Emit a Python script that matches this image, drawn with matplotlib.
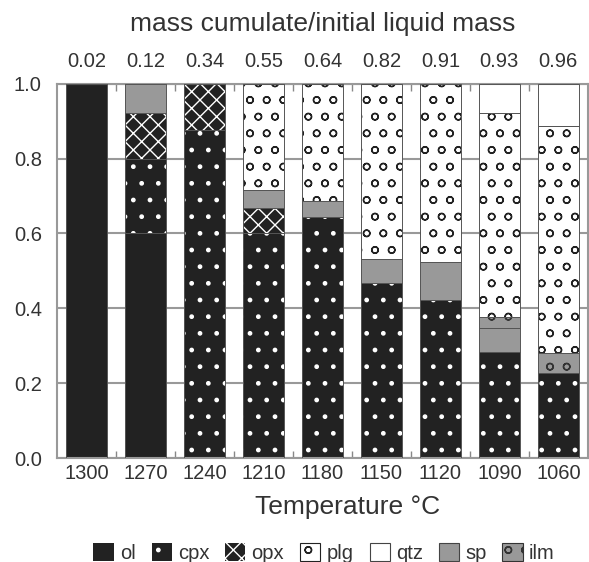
import numpy as np
import matplotlib
matplotlib.use('Agg')
from matplotlib import pyplot as plt
from matplotlib.patches import Patch

matplotlib.rcParams['font.family'] = ['Liberation Sans', 'DejaVu Sans']
matplotlib.rcParams['hatch.linewidth'] = 1.0

temps = ['1300', '1270', '1240', '1210', '1180', '1150', '1120', '1090', '1060']
mass_ratio = ['0.02', '0.12', '0.34', '0.55', '0.64', '0.82', '0.91', '0.93', '0.96']

# mineral fractions, stacked bottom -> top
ol = [1.00, 0.60, 0.0, 0.0, 0.0, 0.0, 0.0, 0.0, 0.0]
cpx = [0.0, 0.20, 0.877, 0.60, 0.644, 0.467, 0.422, 0.282, 0.228]
opx = [0.0, 0.123, 0.123, 0.067, 0.0, 0.0, 0.0, 0.0, 0.0]
sp = [0.0, 0.077, 0.0, 0.05, 0.042, 0.064, 0.103, 0.065, 0.0]
ilm = [0.0, 0.0, 0.0, 0.0, 0.0, 0.0, 0.0, 0.029, 0.052]
plg = [0.0, 0.0, 0.0, 0.283, 0.314, 0.469, 0.475, 0.546, 0.606]
qtz = [0.0, 0.0, 0.0, 0.0, 0.0, 0.0, 0.0, 0.078, 0.114]

minerals = ['ol', 'cpx', 'opx', 'plg', 'qtz', 'sp', 'ilm']
stack_order = ['ol', 'cpx', 'opx', 'sp', 'ilm', 'plg', 'qtz']
values = {'ol': ol, 'cpx': cpx, 'opx': opx, 'sp': sp, 'ilm': ilm, 'plg': plg, 'qtz': qtz}
# (face, hatch, hatch colour)
styles = {
    'ol': ('#222222', None, '#222222'),
    'cpx': ('#222222', '.', 'white'),
    'opx': ('#222222', 'xx', 'white'),
    'plg': ('white', 'o', '#222222'),
    'qtz': ('white', None, '#444444'),
    'sp': ('#999999', None, '#444444'),
    'ilm': ('#999999', 'o', '#333333'),
}

txt = '#333333'
fig = plt.figure(figsize=(5.89, 5.62), dpi=100)
ax = fig.add_axes([0.097, 0.185, 0.901, 0.666])

x = np.arange(len(temps))
w = 0.70
bottom = np.zeros(len(temps))
for m in stack_order:
    v = np.array(values[m])
    fc, h, hc = styles[m]
    ax.bar(x, v, w, bottom=bottom, color=fc, hatch=h, edgecolor=hc, linewidth=0, zorder=2)
    ax.bar(x, v, w, bottom=bottom, fill=False, edgecolor='#555555', linewidth=0.7, zorder=3)
    bottom += v

ax.set_xlim(-0.5, len(temps) - 0.5)
ax.set_ylim(0, 1.0)
ax.set_yticks(np.arange(0, 1.01, 0.2))
ax.set_yticklabels(['%.1f' % t for t in np.arange(0, 1.01, 0.2)])
ax.yaxis.grid(True, color='#999999', linewidth=1.5, zorder=0)
ax.set_axisbelow(True)
ax.set_xticks(x)
ax.set_xticklabels(temps)
ax.set_xticks(x[:-1] + 0.5, minor=True)
ax.tick_params(which='major', length=0, labelsize=14.5, colors=txt, pad=4)
ax.tick_params(axis='y', which='major', pad=11)
ax.tick_params(which='minor', direction='in', length=5, width=1, color='#888888',
               top=True, bottom=True)
for s in ax.spines.values():
    s.set_color('#999999')
    s.set_linewidth(1.5)
ax.set_xlabel('Temperature °C', fontsize=19, color=txt, labelpad=9)
ax.xaxis.label.set_x(0.547)

top = ax.secondary_xaxis('top')
top.set_xticks(x)
top.set_xticklabels(mass_ratio)
top.tick_params(length=0, labelsize=14.5, colors=txt, pad=9)
top.spines['top'].set_visible(False)
top.set_xlabel('mass cumulate/initial liquid mass', fontsize=19, color=txt, labelpad=15)

handles = []
for m in minerals:
    fc, h, hc = styles[m]
    lw = 0 if fc == '#222222' else 0.8
    handles.append(Patch(facecolor=fc, hatch=h, edgecolor=hc, linewidth=lw, label=m))
fig.legend(handles=handles, loc='lower center', bbox_to_anchor=(0.55, -0.034), ncol=7,
           frameon=False, fontsize=14.5, handlelength=1.0, handleheight=0.95,
           handletextpad=0.3, columnspacing=0.8, labelcolor=txt)

fig.savefig('out.png', dpi=100)
